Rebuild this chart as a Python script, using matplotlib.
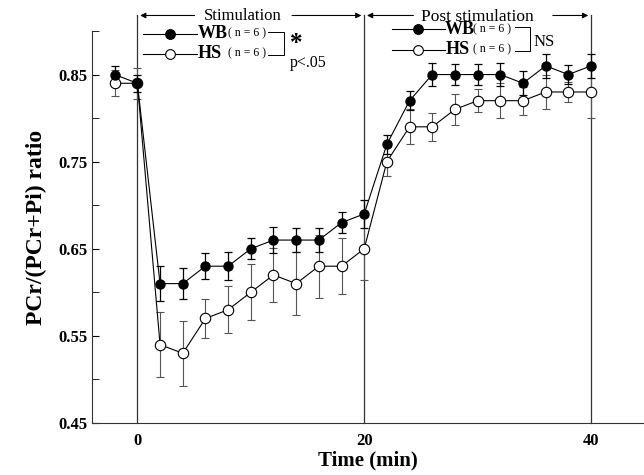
import matplotlib
matplotlib.use("Agg")
import matplotlib.pyplot as plt

plt.rcParams['font.family'] = ['Liberation Serif', 'DejaVu Serif']

time = [-2, 0, 2, 4, 6, 8, 10, 12, 14, 16, 18, 20, 22, 24, 26, 28, 30, 32, 34, 36, 38, 40]
wb = [0.85, 0.84, 0.61, 0.61, 0.63, 0.63, 0.65, 0.66, 0.66, 0.66, 0.68, 0.69,
      0.77, 0.82, 0.85, 0.85, 0.85, 0.85, 0.84, 0.86, 0.85, 0.86]
wb_err = [0.010, 0.010, 0.020, 0.018, 0.015, 0.016, 0.012, 0.015, 0.014, 0.014, 0.012, 0.016,
          0.011, 0.011, 0.013, 0.012, 0.012, 0.013, 0.014, 0.014, 0.011, 0.014]
hs = [0.84, 0.84, 0.54, 0.53, 0.57, 0.58, 0.60, 0.62, 0.61, 0.63, 0.63, 0.65,
      0.75, 0.79, 0.79, 0.81, 0.82, 0.82, 0.82, 0.83, 0.83, 0.83]
hs_err = [0.015, 0.018, 0.037, 0.037, 0.022, 0.027, 0.032, 0.031, 0.036, 0.036, 0.032, 0.036,
          0.017, 0.020, 0.016, 0.018, 0.013, 0.020, 0.016, 0.020, 0.012, 0.030]
yticks = [0.45, 0.55, 0.65, 0.75, 0.85]
xticks = [0, 20, 40]

fig = plt.figure(figsize=(6.44, 4.75), dpi=100)
ax = fig.add_axes([92/644, 1-423/475, 1-92/644, (423-31)/475])
ax.set_xlim(-4, (644-137)/11.35)
ax.set_ylim(0.45, 0.90)

ax.errorbar(time, hs, yerr=hs_err, fmt='none', ecolor='#555555', elinewidth=0.8,
            capsize=3, capthick=0.8, zorder=2)
ax.errorbar(time, wb, yerr=wb_err, fmt='none', ecolor='black', elinewidth=0.9,
            capsize=3, capthick=0.9, zorder=2)
ax.plot(time, hs, '-o', color='black', lw=0.8, mfc='white', mec='black', mew=0.8, ms=7.5, zorder=3)
ax.plot(time, wb, '-o', color='black', lw=0.8, mfc='black', mec='black', ms=6.5, zorder=4)

for xv in xticks:
    ax.plot([xv, xv], [0.45, 0.918], color='#333333', lw=0.9, clip_on=False, zorder=1)

ax.spines['top'].set_visible(False)
ax.spines['right'].set_visible(False)
ax.spines['left'].set_color('#333333')
ax.spines['bottom'].set_color('#333333')
ax.set_yticks(yticks)
ax.set_yticklabels([f"{v:.2f}" for v in yticks])
ax.set_yticks([0.50, 0.60, 0.70, 0.80, 0.90], minor=True)
ax.set_xticks(xticks)
ax.tick_params(axis='y', direction='in', length=5, labelsize=12, pad=3)
ax.tick_params(axis='y', which='minor', direction='in', length=5)
ax.tick_params(axis='x', direction='in', length=0, labelsize=12, pad=7)
for lbl in ax.get_xticklabels() + ax.get_yticklabels():
    lbl.set_fontweight('bold')
ax.set_xlabel('Time (min)', fontsize=15, fontweight='bold', labelpad=1)
ax.set_ylabel('PCr/(PCr+Pi) ratio', fontsize=17, fontweight='bold', labelpad=8)

def t(xp):
    return (xp - 137) / 11.35

def v(yp):
    return 0.45 + (423 - yp) / 870

ya = v(16)
arrow = dict(arrowstyle='-|>', color='black', lw=0.8, mutation_scale=8)
ax.annotate('', xy=(0, ya), xytext=(t(197), ya), arrowprops=arrow, annotation_clip=False)
ax.annotate('', xy=(20, ya), xytext=(t(289), ya), arrowprops=arrow, annotation_clip=False)
ax.text(t(242), v(17), 'Stimulation', ha='center', va='center', fontsize=12, clip_on=False)
ax.annotate('', xy=(20, ya), xytext=(t(416), ya), arrowprops=arrow, annotation_clip=False)
ax.annotate('', xy=(40, ya), xytext=(t(550), ya), arrowprops=arrow, annotation_clip=False)
ax.text(t(477), v(18), 'Post stimulation', ha='center', va='center', fontsize=12.5, clip_on=False)

def legend_block(x0, x1, xm, y_wb, y_hs, xn, xb0, xb1):
    for yy, fc, name in [(y_wb, 'black', 'WB'), (y_hs, 'white', 'HS')]:
        ax.plot([t(x0), t(x1)], [v(yy), v(yy)], color='black', lw=0.8, clip_on=False)
        ax.plot([t(xm)], [v(yy)], 'o', mfc=fc, mec='black', mew=0.8, ms=7, clip_on=False)
        ax.text(t(x1), v(yy), name, ha='left', va='center', fontsize=13, fontweight='bold', clip_on=False)
        ax.text(t(xn), v(yy), '( n = 6 )', ha='left', va='center', fontsize=8.5, clip_on=False)
    ax.plot([t(xb0), t(xb1), t(xb1), t(xb0)], [v(y_wb - 2), v(y_wb - 2), v(y_hs + 1), v(y_hs + 1)],
            color='black', lw=0.7, clip_on=False)

legend_block(143, 197, 170, 34, 54, 228, 268, 284)
ax.text(t(290), v(44), '*', ha='left', va='center', fontsize=18, fontweight='bold', clip_on=False)
ax.text(t(290), v(63), 'p<.05', ha='left', va='center', fontsize=11.5, clip_on=False)

legend_block(392, 445, 418, 30, 50, 473, 515, 530)
ax.text(t(533), v(42), 'NS', ha='left', va='center', fontsize=12, clip_on=False)

fig.savefig('out.png', dpi=100)
